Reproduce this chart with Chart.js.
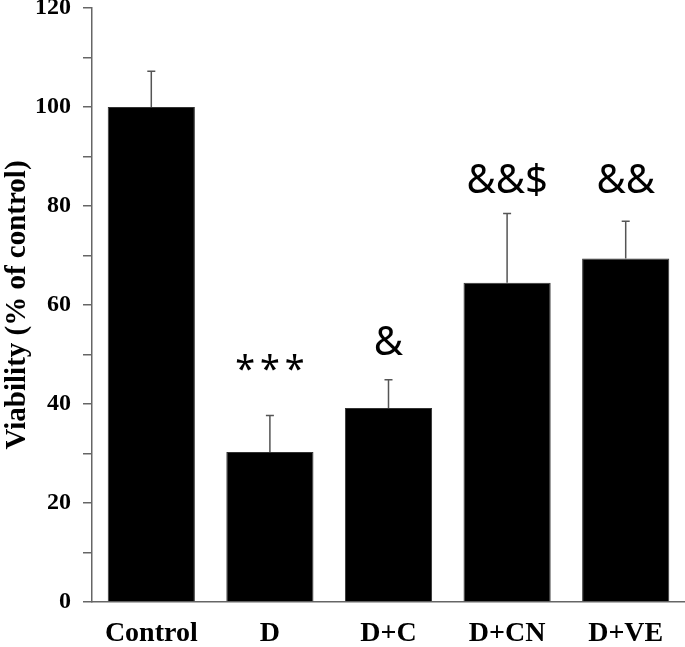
<!DOCTYPE html>
<html>
<head>
<meta charset="utf-8">
<script src="https://cdn.jsdelivr.net/npm/chart.js@4"></script>
<style>
  html, body { margin: 0; padding: 0; background: #fff; }
  #wrap { width: 685px; height: 647px; }
</style>
</head>
<body>
<div id="wrap"><canvas id="grafico"></canvas></div>
<script>
// datos
const grupos = ['Control', 'D', 'D+C', 'D+CN', 'D+VE'];
const viabilidad = [100, 30.3, 39.2, 64.5, 69.4];
const errorSup = [7.2, 7.4, 5.7, 14.0, 7.5];
const marcas = ['', '***', '&', '&&$', '&&'];
const alturaMarca = [null, 46.8, 52.3, 84.9, 84.9];
const ticksY = [0, 20, 40, 60, 80, 100, 120];

// barras de error (solo hacia arriba) y marcas de significación
const extras = {
    id: 'extras',
    afterDatasetsDraw(chart) {
        const ctx = chart.ctx;
        const y = chart.scales.y;
        const meta = chart.getDatasetMeta(0);
        ctx.save();
        ctx.strokeStyle = '#555';
        ctx.lineWidth = 1.5;
        meta.data.forEach((bar, i) => {
            const yTop = y.getPixelForValue(viabilidad[i] + errorSup[i]);
            ctx.beginPath();
            ctx.moveTo(bar.x, bar.y);
            ctx.lineTo(bar.x, yTop);
            ctx.moveTo(bar.x - 4, yTop);
            ctx.lineTo(bar.x + 4, yTop);
            ctx.stroke();
        });
        ctx.fillStyle = '#000';
        ctx.textAlign = 'center';
        ctx.textBaseline = 'middle';
        meta.data.forEach((bar, i) => {
            if (!marcas[i]) return;
            const asteriscos = marcas[i].includes('*');
            ctx.font = asteriscos ? '36px "Noto Sans"' : '40px "Noto Sans"';
            ctx.letterSpacing = asteriscos ? '5px' : '0px';
            ctx.fillText(marcas[i], bar.x + (asteriscos ? 2.5 : 0), y.getPixelForValue(alturaMarca[i]));
        });
        ctx.restore();
    }
};

new Chart(document.getElementById('grafico'), {
    type: 'bar',
    data: {
        labels: grupos,
        datasets: [{
            data: viabilidad,
            backgroundColor: '#000',
            borderColor: '#333',
            borderWidth: 1,
            categoryPercentage: 1,
            barPercentage: 0.735
        }]
    },
    options: {
        responsive: true,
        maintainAspectRatio: false,
        animation: false,
        layout: { padding: { top: 8, right: 0 } },
        plugins: {
            legend: { display: false },
            tooltip: { enabled: false }
        },
        scales: {
            x: {
                grid: { display: false },
                border: { color: '#666', width: 1.5 },
                ticks: {
                    color: '#000',
                    font: { family: '"Liberation Serif"', weight: 'bold', size: 28 },
                    padding: 7
                },
                afterFit(scale) { scale.height = 45; }
            },
            y: {
                min: 0,
                max: 120,
                grid: { drawOnChartArea: false, color: '#666', tickLength: 9, lineWidth: 1.5 },
                border: { color: '#666', width: 1.5 },
                ticks: {
                    stepSize: 10,
                    color: '#000',
                    font: { family: '"Liberation Serif"', weight: 'bold', size: 24 },
                    padding: 12,
                    callback: v => ticksY.includes(v) ? v : ''
                },
                title: {
                    display: true,
                    text: 'Viability (% of control)',
                    color: '#000',
                    font: { family: '"Liberation Serif"', weight: 'bold', size: 29 },
                    padding: 0
                },
                afterFit(scale) {
                    scale.width = 92;
                    scale.paddingTop = 0;
                    scale.paddingBottom = 0;
                }
            }
        }
    },
    plugins: [extras]
});
</script>
</body>
</html>
